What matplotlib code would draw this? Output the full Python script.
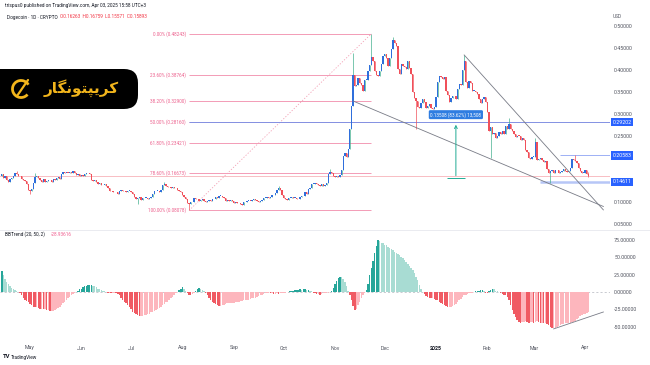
import numpy as np
import pandas as pd
import matplotlib
matplotlib.use("Agg")
import matplotlib.pyplot as plt
import matplotlib.dates as mdates
from matplotlib.patches import FancyBboxPatch, Arc

plt.rcParams['font.family'] = ['Roboto', 'DejaVu Sans']

# Dogecoin 1D closes (one list per month)
close_apr24 = [0.163, 0.155, 0.158, 0.150, 0.146, 0.152, 0.155, 0.160, 0.166, 0.164,
               0.160, 0.158, 0.152, 0.150, 0.148, 0.140, 0.127]
close_may24 = [0.124, 0.130, 0.143, 0.157, 0.160, 0.155, 0.150, 0.146, 0.152, 0.145,
               0.147, 0.149, 0.151, 0.146, 0.153, 0.149, 0.154, 0.156, 0.152, 0.164,
               0.168, 0.166, 0.167, 0.166, 0.169, 0.167, 0.170, 0.166, 0.162, 0.163, 0.160]
close_jun24 = [0.161, 0.159, 0.163, 0.165, 0.166, 0.163, 0.150, 0.148, 0.149, 0.145,
               0.140, 0.143, 0.138, 0.139, 0.141, 0.137, 0.131, 0.124, 0.126, 0.123,
               0.122, 0.123, 0.119, 0.124, 0.127, 0.124, 0.125, 0.123, 0.125, 0.125]
close_jul24 = [0.122, 0.119, 0.112, 0.106, 0.108, 0.111, 0.104, 0.108, 0.109, 0.109,
               0.107, 0.109, 0.112, 0.118, 0.124, 0.125, 0.126, 0.122, 0.128, 0.139,
               0.142, 0.136, 0.134, 0.133, 0.131, 0.134, 0.131, 0.132, 0.127, 0.125, 0.122]
close_aug24 = [0.116, 0.111, 0.106, 0.098, 0.095, 0.100, 0.099, 0.110, 0.106, 0.107,
               0.102, 0.104, 0.107, 0.103, 0.101, 0.102, 0.104, 0.102, 0.106, 0.107,
               0.111, 0.109, 0.114, 0.114, 0.112, 0.108, 0.102, 0.104, 0.102, 0.104, 0.102]
close_sep24 = [0.098, 0.100, 0.097, 0.098, 0.096, 0.094, 0.099, 0.100, 0.103, 0.103,
               0.102, 0.104, 0.106, 0.105, 0.103, 0.101, 0.103, 0.105, 0.109, 0.110,
               0.111, 0.109, 0.111, 0.115, 0.116, 0.121, 0.127, 0.132, 0.128, 0.117]
close_oct24 = [0.110, 0.106, 0.105, 0.109, 0.110, 0.111, 0.109, 0.109, 0.106, 0.107,
               0.111, 0.114, 0.113, 0.122, 0.119, 0.130, 0.132, 0.141, 0.142, 0.144,
               0.140, 0.138, 0.137, 0.141, 0.137, 0.139, 0.144, 0.163, 0.168, 0.166, 0.159]
close_nov24 = [0.157, 0.160, 0.157, 0.162, 0.172, 0.205, 0.211, 0.203, 0.220, 0.266,
               0.318, 0.388, 0.364, 0.366, 0.382, 0.370, 0.367, 0.352, 0.377, 0.378,
               0.397, 0.412, 0.430, 0.421, 0.397, 0.389, 0.386, 0.397, 0.414, 0.432]
close_dec24 = [0.437, 0.427, 0.410, 0.427, 0.447, 0.468, 0.461, 0.455, 0.402, 0.392,
               0.414, 0.410, 0.406, 0.402, 0.420, 0.404, 0.392, 0.350, 0.336, 0.330,
               0.316, 0.313, 0.326, 0.334, 0.328, 0.313, 0.319, 0.323, 0.313, 0.311, 0.316]
close_jan25 = [0.338, 0.372, 0.387, 0.383, 0.380, 0.385, 0.352, 0.343, 0.327, 0.337,
               0.342, 0.340, 0.335, 0.356, 0.368, 0.366, 0.400, 0.420, 0.372, 0.360,
               0.374, 0.371, 0.353, 0.353, 0.349, 0.345, 0.335, 0.325, 0.335, 0.338, 0.328]
close_feb25 = [0.305, 0.262, 0.270, 0.255, 0.257, 0.245, 0.250, 0.258, 0.255, 0.262,
               0.255, 0.273, 0.267, 0.278, 0.267, 0.262, 0.255, 0.248, 0.251, 0.250,
               0.240, 0.245, 0.241, 0.218, 0.213, 0.200, 0.197, 0.202]
close_mar25 = [0.203, 0.236, 0.196, 0.198, 0.200, 0.196, 0.192, 0.194, 0.175, 0.165,
               0.170, 0.173, 0.167, 0.173, 0.172, 0.167, 0.169, 0.170, 0.175, 0.170,
               0.168, 0.171, 0.177, 0.197, 0.196, 0.194, 0.189, 0.177, 0.171, 0.167, 0.167]
close_apr25 = [0.172, 0.16263, 0.15893]
first_open = 0.160

# only the visible long wicks
wick_high = {'2024-04-23': 0.171, '2024-05-04': 0.165, '2024-07-21': 0.145,
             '2024-09-28': 0.136, '2024-10-29': 0.175, '2024-11-12': 0.4386,
             '2024-11-23': 0.48243, '2024-12-06': 0.476, '2025-01-18': 0.4342,
             '2025-02-14': 0.290, '2025-03-02': 0.245, '2025-03-26': 0.206,
             '2025-04-03': 0.16759}
wick_low = {'2024-05-01': 0.118, '2024-07-05': 0.096, '2024-08-05': 0.08078,
            '2024-12-20': 0.266, '2025-02-03': 0.200, '2025-03-11': 0.1428,
            '2025-04-03': 0.15571}

# BBTrend (20, 50, 2) histogram, daily
bbtrend = [30, 24, 19, 15, 11, 8, 6, 4, 3, 1,
           0, -2, -5, -8, -11, -13, -15, -17, -19, -21,
           -22, -22, -23, -24, -24, -25, -25, -26, -26, -27,
           -27, -27, -26, -24, -23, -21, -19, -16, -14, -12,
           -9, -7, -5, -3, -2, 0, 2, 4, 5, 7,
           8, 9, 10, 10, 10, 9, 8, 7, 5, 4,
           3, 2, 1, 0, -1, -1, -2, -1, -1, -2,
           -3, -5, -8, -11, -14, -16, -19, -22, -25, -28,
           -30, -32, -33, -34, -34, -34, -33, -33, -32, -31,
           -29, -28, -27, -26, -25, -23, -21, -19, -17, -15,
           -14, -12, -9, -7, -4, -2, 0, 3, 5, 7,
           5, 2, -1, -4, -5, -3, -1, 2, 4, 6,
           5, 3, 1, -2, -5, -8, -11, -14, -16, -17,
           -19, -20, -20, -19, -18, -17, -16, -16, -16, -16,
           -16, -15, -14, -14, -13, -13, -12, -12, -11, -11,
           -10, -9, -8, -8, -7, -6, -5, -4, -3, -2,
           -1, -1, -2, -2, -3, -3, -2, -3, -2, -2,
           -1, -1, 0, 0, 1, 2, 2, 3, 3, 3,
           4, 3, 4, 4, 3, 3, 2, 1, -1, -2,
           -3, -3, -4, -3, -2, -1, -1, -1, 0, 2,
           6, 11, 16, 20, 22, 21, 18, 14, 8, 2,
           -4, -12, -20, -26, -24, -19, -14, -9, -5, -1,
           3, 12, 24, 35, 45, 56, 66, 75, 73, 71,
           70, 68, 67, 65, 63, 62, 60, 58, 56, 54,
           53, 51, 49, 46, 43, 40, 37, 34, 31, 27,
           22, 17, 10, 5, 0, -3, -6, -7, -8, -9,
           -9, -10, -11, -12, -14, -16, -17, -19, -20, -22,
           -22, -21, -20, -19, -17, -15, -12, -10, -7, -5,
           -4, -3, -2, -1, -1, 0, 1, 2, 2, 3,
           3, 1, -1, -2, 1, 3, 5, 4, 2, 1,
           0, -1, -3, -4, -5, -7, -12, -19, -26, -31,
           -36, -40, -43, -44, -43, -43, -42, -43, -44, -43,
           -43, -44, -43, -42, -43, -44, -44, -45, -45, -46,
           -48, -50, -52, -52, -51, -50, -49, -47, -46, -46,
           -45, -45, -44, -44, -43, -43, -41, -39, -37, -35,
           -33, -32, -31, -30, -28.93616]

fib_ratios = [0.0, 0.236, 0.382, 0.5, 0.618, 0.786, 1.0]
fib_high = ('2024-11-23', 0.48243)
fib_low = ('2024-08-05', 0.08078)
ray_levels = [('2024-08-05', 0.2816, '0.29202'), ('2025-03-17', 0.20583, '0.20583'),
              ('2025-03-05', 0.14611, '0.14611')]
wedge_upper = [('2025-01-18', 0.4342), ('2025-04-12', 0.082)]
wedge_lower = [('2024-11-12', 0.3295), ('2025-04-12', 0.0898)]
bb_line = [('2025-03-13', -53), ('2025-04-12', -28.7)]
month_labels = ['May', 'Jun', 'Jul', 'Aug', 'Sep', 'Oct', 'Nov', 'Dec', '2025', 'Feb', 'Mar', 'Apr']
# 0.15 and 0.20 sit under the price boxes, so TradingView hides them
price_ticks = [0.05, 0.10, 0.25, 0.30, 0.35, 0.40, 0.45, 0.50]
bb_ticks = [-50, -25, 0, 25, 50, 75]

col_up, col_up_wick, col_dn = '#2F6FDC', '#45B08F', '#F0505A'
txt_col = '#50535E'


def dn(s):
    return mdates.date2num(pd.Timestamp(s))


closes = np.array(close_apr24 + close_may24 + close_jun24 + close_jul24 + close_aug24 + close_sep24
                  + close_oct24 + close_nov24 + close_dec24 + close_jan25 + close_feb25 + close_mar25
                  + close_apr25)
dates = pd.date_range('2024-04-14', '2025-04-03', freq='D')
x = mdates.date2num(dates)
opens = np.r_[first_open, closes[:-1]]
highs = np.maximum(opens, closes)
lows = np.minimum(opens, closes)
for d, v in wick_high.items():
    highs[dates.get_loc(pd.Timestamp(d))] = v
for d, v in wick_low.items():
    lows[dates.get_loc(pd.Timestamp(d))] = v
up = closes >= opens

fig = plt.figure(figsize=(6.5, 3.65), dpi=100)
fig.patch.set_facecolor('white')
ax = fig.add_axes([0, 1 - 229 / 365, 610 / 650, 212 / 365])
axb = fig.add_axes([0, 1 - 333 / 365, 610 / 650, 102 / 365], sharex=ax)
ov = fig.add_axes([0, 0, 1, 1], zorder=10)
ov.set_xlim(0, 650)
ov.set_ylim(365, 0)
ov.axis('off')
ov.patch.set_alpha(0)

# candles
ax.vlines(x, lows, highs, colors=np.where(up, col_up_wick, col_dn), lw=0.5, zorder=3)
ax.bar(x, np.maximum(np.abs(closes - opens), 0.0015), bottom=np.minimum(opens, closes),
       width=0.8, color=np.where(up, col_up, col_dn), lw=0, zorder=4)
ax.axhline(closes[-1], color='#F7B3B9', lw=0.6, zorder=1)

# fib retracement
x0, x1 = dn(fib_low[0]), dn(fib_high[0])
for r in fib_ratios:
    lev = fib_high[1] - r * (fib_high[1] - fib_low[1])
    ax.hlines(lev, x0, x1, color='#F39BB6', lw=0.7, zorder=2)
    ax.text(x0 - 2, lev, f'{r * 100:.2f}% ({lev:.5f})', ha='right', va='center',
            fontsize=3.3, color='#EC5F8C')
ax.plot([x0, x1], [fib_low[1], fib_high[1]], color='#F3A0B5', lw=0.6, ls=(0, (1.5, 2)), zorder=2)

# horizontal rays with price labels
ray_end = dn('2025-04-30')
for i, (d, lev, lab) in enumerate(ray_levels):
    colr = ['#8391E3', '#9DB0F5', '#B7C6F7'][i]
    ax.hlines(lev, dn(d), ray_end, color=colr, lw=[0.7, 0.7, 1.8][i], zorder=2)
    ax.text(1.004, lev, lab, transform=ax.get_yaxis_transform(), ha='left', va='center',
            fontsize=3.8, color='white', zorder=6,
            bbox=dict(boxstyle='square,pad=0.3', fc='#2962FF', ec='none'))

# wedge lines
for pts in (wedge_upper, wedge_lower):
    ax.plot([dn(p[0]) for p in pts], [p[1] for p in pts], color='#787B86', lw=0.6, zorder=5)

# price range measurement
xm = dn('2025-01-13')
ax.annotate('', xy=(xm, 0.282), xytext=(xm, 0.1535),
            arrowprops=dict(arrowstyle='->', color='#22AB94', lw=0.7, mutation_scale=5), zorder=5)
ax.hlines(0.1535, xm - 5.5, xm + 5.5, color='#22AB94', lw=0.7, zorder=5)
ax.text(xm, 0.2985, '0.13508 (83.62%) 13,508', ha='center', va='center', fontsize=3.3,
        color='white', zorder=7, bbox=dict(boxstyle='round,pad=0.35,rounding_size=0.3',
                                           fc='#2F7DE1', ec='none'))

ax.set_ylim(0.0386, 0.5205)
ax.set_yticks(price_ticks)
ax.yaxis.set_major_formatter(matplotlib.ticker.FormatStrFormatter('%.5f'))
ax.yaxis.tick_right()
ax.tick_params(axis='y', length=0, pad=3, labelsize=3.8, labelcolor=txt_col)
ax.tick_params(axis='x', length=0, labelbottom=False)

# BBTrend histogram
bb = np.array(bbtrend, dtype=float)
diff = np.diff(bb, prepend=bb[0])
bcol = np.where(bb >= 0, np.where(diff >= 0, '#26A69A', '#A8DCD3'),
                np.where(diff < 0, '#F05A63', '#FDB6BD'))
axb.bar(x, bb, width=0.85, color=bcol, lw=0, zorder=3)
axb.axhline(0, color='#B2B5BE', lw=0.5, ls=(0, (3, 3)), zorder=1)
axb.plot([dn(p[0]) for p in bb_line], [p[1] for p in bb_line], color='#787B86', lw=0.6, zorder=4)
axb.set_ylim(-58.9, 87.7)
axb.set_yticks(bb_ticks)
axb.yaxis.set_major_formatter(matplotlib.ticker.FormatStrFormatter('%.5f'))
axb.yaxis.tick_right()
axb.tick_params(axis='y', length=0, pad=3, labelsize=3.8, labelcolor=txt_col)

months = pd.date_range('2024-05-01', '2025-04-01', freq='MS')
axb.set_xticks(mdates.date2num(months))
axb.set_xticklabels(month_labels)
axb.tick_params(axis='x', length=0, pad=9, labelsize=3.8, labelcolor=txt_col)
for t in axb.get_xticklabels():
    if t.get_text() == '2025':
        t.set_fontweight('bold')
        t.set_color('#131722')
axb.set_xlim(dn('2024-04-14') - 1.1, dn('2024-04-14') + 367)

for a in (ax, axb):
    a.set_facecolor('none')
    for s in a.spines.values():
        s.set_visible(False)

# headers and overlay
ov.plot([0, 650], [230, 230], color='#E6E8EE', lw=0.6)
ov.text(5, 6, 'trispus0 published on TradingView.com, Apr 03, 2025 15:58 UTC+3',
        fontsize=3.4, color='#131722', va='center')
ov.text(7, 17, 'Dogecoin \u00b7 1D \u00b7 CRYPTO', fontsize=3.4, color='#131722', va='center')
ov.text(60, 17, 'O0.16263  H0.16759  L0.15571  C0.15893', fontsize=3.4, color='#F23645', va='center')
ov.text(613, 16, 'USD', fontsize=3.4, color=txt_col, va='center')
ov.text(5, 234, 'BBTrend (20, 50, 2)', fontsize=3.4, color='#131722', va='center')
ov.text(51, 234, '-28.93616', fontsize=3.4, color='#F06292', va='center')
ov.text(3, 357, 'TV', fontsize=4.2, fontweight='bold', color='#131722', va='center')
ov.text(11, 357, 'TradingView', fontsize=3.4, color='#131722', va='center')

# watermark logo
ov.add_patch(FancyBboxPatch((-30, 69), 168, 40, boxstyle='round,pad=0,rounding_size=14',
                            fc='black', ec='none'))
ov.add_patch(Arc((21, 89), 17, 17, theta1=40, theta2=330, color='#F2B51C', lw=2.0))
ov.plot([17, 28], [96, 80], color='#F2B51C', lw=1.6, solid_capstyle='round')
# "کریپتونگار" in presentation forms, visual order
ov.text(81, 88, '\uFEAD\uFE8E\uFB95\uFEE7\uFEEE\uFE98\uFB59\uFBFE\uFEAE\uFB90',
        family=['DejaVu Sans'], fontweight='bold', fontsize=11, color='#F2B51C',
        ha='center', va='center')

fig.savefig('out.png', dpi=100)
